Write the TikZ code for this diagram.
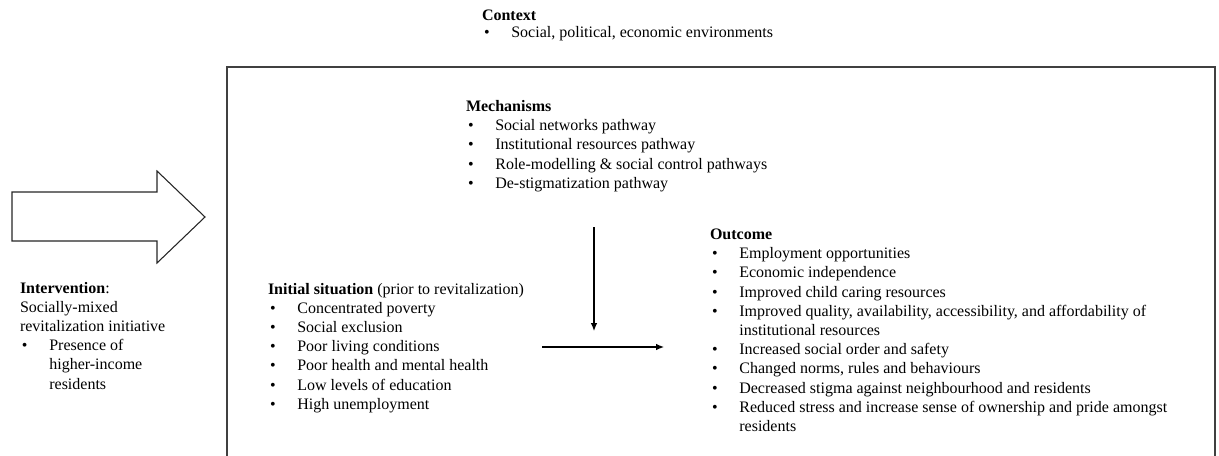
\documentclass[tikz,border=0pt]{standalone}
\usepackage{fontspec}
\setmainfont{Liberation Serif}
\usetikzlibrary{arrows.meta}
\newcommand\hl[1]{\hbox{#1}}
\newcommand\bl[1]{\hbox{\hspace*{1.5pt}\makebox[20.5pt][l]{\textbullet}#1}}
\newcommand\cl[1]{\hbox{\hspace*{22pt}#1}}
\newcommand\blk[2]{\vtop{\fontsize{12pt}{#1}\selectfont\setlength\baselineskip{#1}#2}}
\tikzset{
  txt/.style={anchor=base west, inner sep=0pt, outer sep=0pt},
  conn/.style={line width=0.9pt, -{Latex[length=6pt,width=5pt]}},
  frame/.style={draw=black!75, line width=1.1pt},
  bigarrow/.style={draw=black!85, line width=0.8pt, fill=white}
}
\begin{document}
\begin{tikzpicture}[x=0.75pt,y=-0.75pt]
\useasboundingbox (0,0) rectangle (1219,456);
\clip (0,0) rectangle (1219,456);
% frame
\draw[frame] (227,470) -- (227,67) -- (1215,67) -- (1215,470);
% big arrow
\draw[bigarrow] (12,192) -- (157,192) -- (157,171) -- (205,217) -- (157,263) -- (157,241) -- (12,241) -- cycle;
% context
\node[txt] (context) at (482,21) {\blk{12.75pt}{%
  \hl{\textbf{Context}}
  \bl{Social, political, economic environments}}};
% mechanisms
\node[txt] (mech) at (466,111.5) {\blk{14.4pt}{%
  \hl{\textbf{Mechanisms}}
  \bl{Social networks pathway}
  \bl{Institutional resources pathway}
  \bl{Role-modelling \& social control pathways}
  \bl{De-stigmatization pathway}}};
% intervention
\node[txt] (interv) at (20,293) {\blk{14.4pt}{%
  \hl{\textbf{Intervention}:}
  \hl{Socially-mixed}
  \hl{revitalization initiative}
  \bl{Presence of}
  \cl{higher-income}
  \cl{residents}}};
% initial situation
\node[txt] (init) at (268,294) {\blk{14.4pt}{%
  \hl{\textbf{Initial situation} (prior to revitalization)}
  \bl{Concentrated poverty}
  \bl{Social exclusion}
  \bl{Poor living conditions}
  \bl{Poor health and mental health}
  \bl{Low levels of education}
  \bl{High unemployment}}};
% outcome
\node[txt] (outc) at (710,239.5) {\blk{14.4pt}{%
  \hl{\textbf{Outcome}}
  \bl{Employment opportunities}
  \bl{Economic independence}
  \bl{Improved child caring resources}
  \bl{Improved quality, availability, accessibility, and affordability of}
  \cl{institutional resources}
  \bl{Increased social order and safety}
  \bl{Changed norms, rules and behaviours}
  \bl{Decreased stigma against neighbourhood and residents}
  \bl{Reduced stress and increase sense of ownership and pride amongst}
  \cl{residents}}};
% connectors
\coordinate (vs) at (594,227);
\coordinate (ve) at (594,331);
\coordinate (hs) at (542,347);
\coordinate (he) at (664,347);
\draw[conn] (vs) -- (ve);
\draw[conn] (hs) -- (he);
\end{tikzpicture}
\end{document}
